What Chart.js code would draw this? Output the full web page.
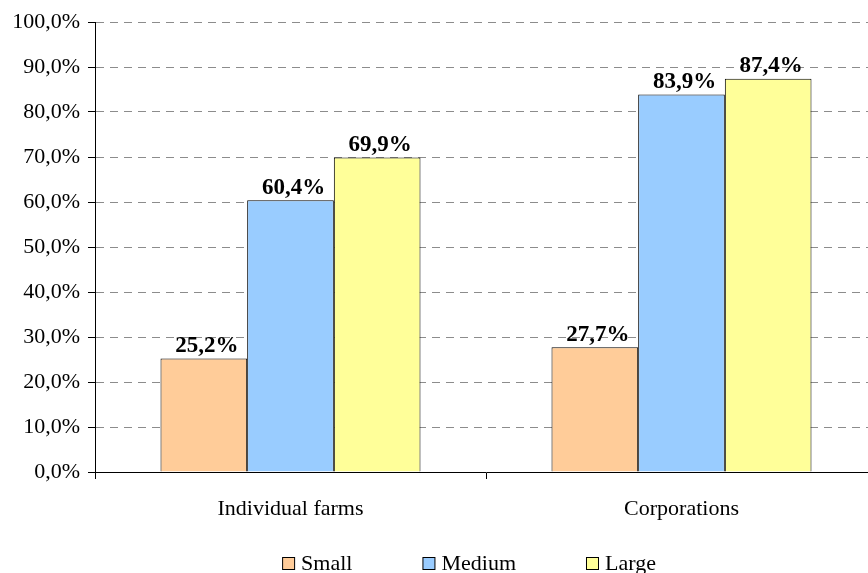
<!DOCTYPE html>
<html>
<head>
<meta charset="utf-8">
<script src="https://cdn.jsdelivr.net/npm/chart.js@4/dist/chart.umd.min.js"></script>
<style>
  html, body { margin: 0; padding: 0; background: #fff; overflow: hidden; }
  #wrap { width: 868px; height: 573px; overflow: hidden; position: relative; }
  #box { width: 880px; height: 573px; position: absolute; left: 0; top: 0; }
</style>
</head>
<body>
<div id="wrap"><div id="box"><canvas id="myChart"></canvas></div></div>
<script>
'use strict';

const categories = ['Individual farms', 'Corporations'];
const seriesNames = ['Small', 'Medium', 'Large'];
const smallValues = [25.2, 27.7];
const mediumValues = [60.4, 83.9];
const largeValues = [69.9, 87.4];
const yTicks = [0, 10, 20, 30, 40, 50, 60, 70, 80, 90, 100];

const colors = ['#FFCC99', '#99CCFF', '#FFFF99'];
const serif = '"Liberation Serif", "Times New Roman", serif';

const pct = function (v) {
    return v.toFixed(1).replace('.', ',') + '%';
};

// value labels above each bar
const barLabels = {
    id: 'barLabels',
    afterDatasetsDraw(chart) {
        const ctx = chart.ctx;
        ctx.save();
        ctx.font = 'bold 23px ' + serif;
        ctx.fillStyle = '#000';
        ctx.textAlign = 'center';
        ctx.textBaseline = 'bottom';
        chart.data.datasets.forEach(function (ds, i) {
            chart.getDatasetMeta(i).data.forEach(function (bar, j) {
                ctx.fillText(pct(ds.data[j]), bar.x + 3, bar.y - 1);
            });
        });
        ctx.restore();
    }
};

// legend drawn at the bottom with wide gaps between entries
const bottomLegend = {
    id: 'bottomLegend',
    afterDraw(chart) {
        const ctx = chart.ctx;
        const box = 12, gap = 7, spacing = 70;
        ctx.save();
        ctx.font = '22px ' + serif;
        const items = chart.data.datasets.map(function (ds) {
            return { text: ds.label, color: ds.backgroundColor, w: box + gap + ctx.measureText(ds.label).width };
        });
        let total = spacing * (items.length - 1);
        items.forEach(function (it) { total += it.w; });
        let x = 469 - total / 2;
        const y = 563;
        items.forEach(function (it) {
            ctx.fillStyle = it.color;
            ctx.fillRect(x + 0.5, y - box / 2 + 0.5, box, box);
            ctx.strokeStyle = '#000';
            ctx.lineWidth = 1;
            ctx.strokeRect(x + 0.5, y - box / 2 + 0.5, box, box);
            ctx.fillStyle = '#000';
            ctx.textBaseline = 'middle';
            ctx.textAlign = 'left';
            ctx.fillText(it.text, x + box + gap, y + 1);
            x += it.w + spacing;
        });
        ctx.restore();
    }
};

const values = [smallValues, mediumValues, largeValues];
const datasets = seriesNames.map(function (name, i) {
    return {
        label: name,
        data: values[i],
        backgroundColor: colors[i],
        borderColor: '#000',
        borderWidth: 1,
        borderSkipped: 'bottom',
        categoryPercentage: 0.665,
        barPercentage: 1.0
    };
});

document.addEventListener('DOMContentLoaded', function () {
    const ctx = document.getElementById('myChart').getContext('2d');
    new Chart(ctx, {
        type: 'bar',
        data: { labels: categories, datasets: datasets },
        options: {
            responsive: true,
            maintainAspectRatio: false,
            animation: false,
            layout: { padding: { top: 22, right: 3, left: 0, bottom: 0 } },
            plugins: {
                legend: { display: false },
                tooltip: { enabled: false }
            },
            scales: {
                x: {
                    grid: {
                        offset: true,
                        drawOnChartArea: false,
                        tickLength: 7,
                        tickColor: '#000'
                    },
                    border: { color: '#000', width: 1 },
                    ticks: {
                        color: '#000',
                        padding: 17,
                        font: { family: serif, size: 22 }
                    },
                    afterFit(scale) { scale.height = 101; }
                },
                y: {
                    min: 0,
                    max: 100,
                    afterBuildTicks(scale) {
                        scale.ticks = yTicks.map(function (v) { return { value: v }; });
                    },
                    grid: {
                        color: '#8c8c8c',
                        tickLength: 7,
                        tickColor: '#000',
                        tickBorderDash: []
                    },
                    border: { color: '#000', width: 1, dash: [8, 6] },
                    ticks: {
                        color: '#000',
                        padding: 8,
                        font: { family: serif, size: 22 },
                        callback: function (v) { return pct(v); }
                    },
                    afterFit(scale) { scale.width = 95; }
                }
            }
        },
        plugins: [barLabels, bottomLegend]
    });
});
</script>
</body>
</html>
